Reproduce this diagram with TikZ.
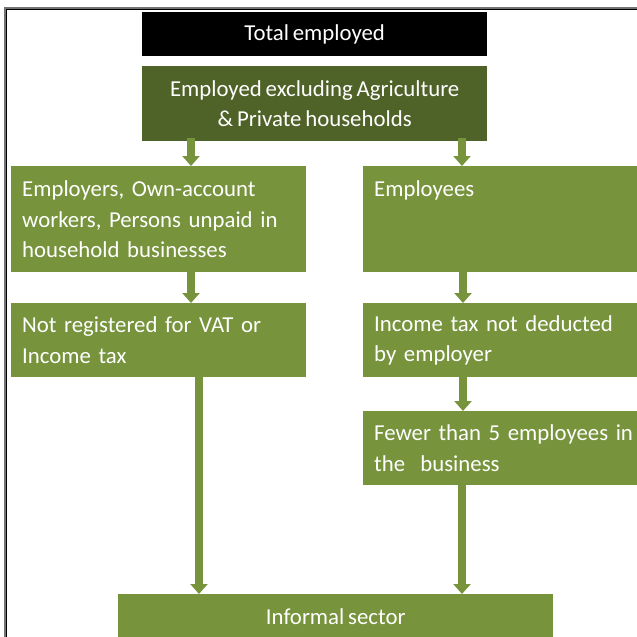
\documentclass[tikz,border=0pt]{standalone}
\usepackage{fontspec}
\setmainfont{Carlito}
\usetikzlibrary{arrows.meta}
\definecolor{dkgreen}{HTML}{4F6228}
\definecolor{ltgreen}{HTML}{77933C}
\newcommand{\boxfont}{\fontsize{22.8}{30.5}\selectfont\spaceskip=0.17em plus 0.05em minus 0.03em\relax}
\begin{document}
\begin{tikzpicture}[x=1pt,y=-1pt,
  box/.style={rectangle, fill=ltgreen, text=white, anchor=north west, inner xsep=11pt, inner ysep=0pt,
    align=left, font=\boxfont},
  cbox/.style={rectangle, text=white, anchor=north west, inner sep=0pt,
    align=center, font=\boxfont},
  blockarrow/.style={line width=8.5pt, draw=ltgreen, -{Triangle[width=17pt,length=10pt]}}]
\clip (0,0) rectangle (637,637);
% frame
\draw[line width=2.2pt, black!55] (5.5,8.5) rectangle (720,720);
\draw[line width=1.2pt, black] (6.8,9.8) rectangle (720,720);
% boxes
\node[cbox, fill=black, minimum width=345pt, minimum height=44pt] (total) at (142,12) {Total employed};
\node[cbox, fill=dkgreen, minimum width=345pt, minimum height=75pt] (excl) at (142,66)
  {Employed excluding Agriculture\\\& Private households};
\node[box, text width=273pt, minimum height=106pt] (self) at (11,166)
  {Employers, Own-account\\workers, Persons unpaid in\\household businesses};
\node[box, text width=273pt, minimum height=74pt] (notreg) at (11,303)
  {Not registered for VAT or\\Income tax};
\node[box, text width=273pt, minimum height=106pt] (empl) at (363,166)
  {Employees\\\mbox{}\\\mbox{}};
\node[box, text width=273pt, minimum height=74pt] (tax) at (363,303)
  {Income tax not deducted\\by employer};
\node[box, text width=273pt, minimum height=74pt] (fewer) at (363,411)
  {Fewer than 5 employees in\\the\ \ business};
\node[cbox, fill=ltgreen, minimum width=435pt, minimum height=44pt] (inf) at (118,594) {Informal sector};
% arrows
\draw[blockarrow] ([yshift=3pt]excl.south -| 191,0) -- (self.north -| 191,0);
\draw[blockarrow] ([yshift=3pt]excl.south -| 462,0) -- (empl.north -| 462,0);
\draw[blockarrow] (self.south -| 191,0) -- (notreg.north -| 191,0);
\draw[blockarrow] (empl.south -| 463,0) -- (tax.north -| 463,0);
\draw[blockarrow] (tax.south -| 463,0) -- (fewer.north -| 463,0);
\draw[blockarrow] (notreg.south -| 199,0) -- (inf.north -| 199,0);
\draw[blockarrow] (fewer.south -| 462,0) -- (inf.north -| 462,0);
\end{tikzpicture}
\end{document}
